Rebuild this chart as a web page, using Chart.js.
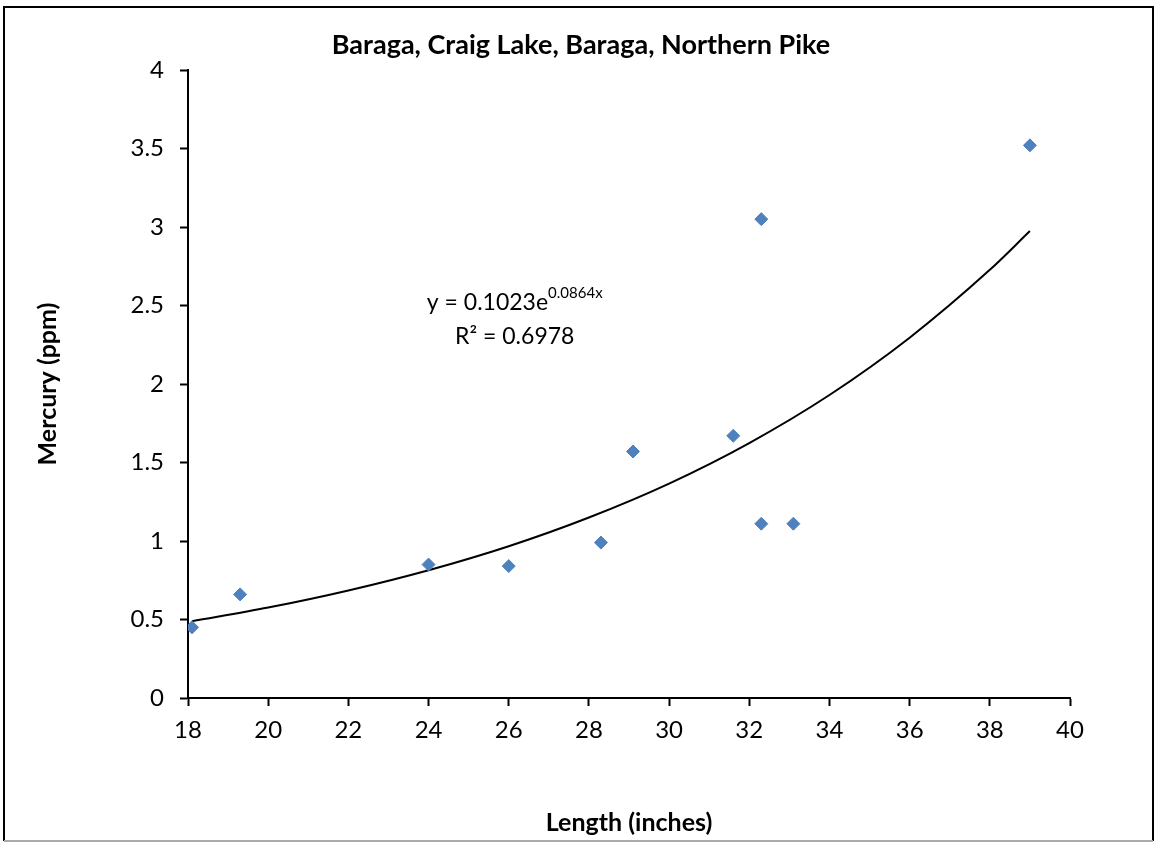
<!DOCTYPE html>
<html>
<head>
<meta charset="utf-8">
<script src="https://cdn.jsdelivr.net/npm/chart.js@4.4.1/dist/chart.umd.min.js"></script>
<style>
  html, body { margin: 0; padding: 0; background: #fff; }
  #wrap { position: relative; width: 1156px; height: 842px; }
</style>
</head>
<body>
<div id="wrap"><canvas id="chart" width="1156" height="842"></canvas></div>
<script>
// Data -----------------------------------------------------------------------------------

var lengths = [18.1, 19.3, 24.0, 26.0, 28.3, 29.1, 31.6, 32.3, 32.3, 33.1, 39.0];
var mercury = [0.45, 0.66, 0.85, 0.84, 0.99, 1.57, 1.67, 3.05, 1.11, 1.11, 3.52];

// exponential trendline y = 0.1023e^(0.0864x), values read at these lengths
var trendX = [18.1, 20, 22, 24, 26, 28, 30, 32, 34, 36, 38, 39];
var trendY = [0.489, 0.576, 0.685, 0.814, 0.967, 1.150, 1.366, 1.624, 1.930, 2.295, 2.727, 2.974];

var xTicks = [18, 20, 22, 24, 26, 28, 30, 32, 34, 36, 38, 40];
var yTicks = [0, 0.5, 1, 1.5, 2, 2.5, 3, 3.5, 4];

var TITLE = 'Baraga, Craig Lake, Baraga, Northern Pike';
var X_TITLE = 'Length (inches)';
var Y_TITLE = 'Mercury (ppm)';
var EQ_MAIN = 'y = 0.1023e';
var EQ_SUP = '0.0864x';
var EQ_R2 = 'R² = 0.6978';

// Constants ------------------------------------------------------------------------------

var FONT = 'Lato, "Open Sans", sans-serif';
var MARKER_COLOR = '#4F81BD';
var TICK_SIZE = 24;
var AXIS_TITLE_SIZE = 25;
var TITLE_SIZE = 27;
var EQ_SIZE = 23;

// Plugins --------------------------------------------------------------------------------

var frame = {
    id: 'frame',
    afterDraw: function (chart) {
        var ctx = chart.ctx;
        ctx.save();
        ctx.strokeStyle = '#000';
        ctx.lineWidth = 2;
        ctx.beginPath();
        ctx.moveTo(4, 841);
        ctx.lineTo(4, 7);
        ctx.lineTo(1153, 7);
        ctx.lineTo(1153, 841);
        ctx.stroke();
        ctx.strokeStyle = '#aaa';
        ctx.beginPath();
        ctx.moveTo(4, 841);
        ctx.lineTo(1153, 841);
        ctx.stroke();
        ctx.restore();
    }
};

// title centred on the whole canvas, like the spreadsheet chart
var centredTitle = {
    id: 'centredTitle',
    afterDraw: function (chart) {
        var ctx = chart.ctx;
        ctx.save();
        ctx.fillStyle = '#000';
        ctx.font = 'bold ' + TITLE_SIZE + 'px ' + FONT;
        ctx.textAlign = 'center';
        ctx.textBaseline = 'middle';
        ctx.fillText(TITLE, chart.width / 2 + 3, 45);
        ctx.restore();
    }
};

var equation = {
    id: 'equation',
    afterDatasetsDraw: function (chart) {
        var ctx = chart.ctx;
        var cx = chart.scales.x.getPixelForValue(26.15);
        var y1 = chart.scales.y.getPixelForValue(2.52);
        var y2 = chart.scales.y.getPixelForValue(2.3);
        var supSize = Math.round(EQ_SIZE * 0.65);
        ctx.save();
        ctx.fillStyle = '#000';
        ctx.textBaseline = 'middle';
        ctx.font = EQ_SIZE + 'px ' + FONT;
        var wMain = ctx.measureText(EQ_MAIN).width;
        ctx.font = supSize + 'px ' + FONT;
        var wSup = ctx.measureText(EQ_SUP).width;
        var left = cx - (wMain + wSup) / 2;
        ctx.textAlign = 'left';
        ctx.font = EQ_SIZE + 'px ' + FONT;
        ctx.fillText(EQ_MAIN, left, y1);
        ctx.font = supSize + 'px ' + FONT;
        ctx.fillText(EQ_SUP, left + wMain, y1 - 9);
        ctx.font = EQ_SIZE + 'px ' + FONT;
        ctx.textAlign = 'center';
        ctx.fillText(EQ_R2, cx, y2);
        ctx.restore();
    }
};

// Chart ----------------------------------------------------------------------------------

var points = lengths.map(function (x, i) { return { x: x, y: mercury[i] }; });
var trend = trendX.map(function (x, i) { return { x: x, y: trendY[i] }; });

new Chart(document.getElementById('chart').getContext('2d'), {
    type: 'scatter',
    data: {
        datasets: [{
            label: 'Mercury',
            data: points,
            pointStyle: 'rectRot',
            pointRadius: 6.5,
            pointBackgroundColor: MARKER_COLOR,
            pointBorderColor: MARKER_COLOR,
            pointBorderWidth: 1,
            showLine: false,
            order: 1
        }, {
            label: 'Trend',
            data: trend,
            showLine: true,
            borderColor: '#000',
            borderWidth: 2,
            pointRadius: 0,
            cubicInterpolationMode: 'monotone',
            order: 2
        }]
    },
    options: {
        responsive: false,
        animation: false,
        layout: { padding: { left: 33, right: 86, top: 70, bottom: 4 } },
        plugins: {
            legend: { display: false },
            tooltip: { enabled: false },
            title: { display: false }
        },
        scales: {
            x: {
                type: 'linear',
                min: 18,
                max: 40,
                afterBuildTicks: function (axis) {
                    axis.ticks = xTicks.map(function (v) { return { value: v }; });
                },
                afterFit: function (axis) { axis.height = 140; },
                border: { color: '#000', width: 2 },
                grid: { drawOnChartArea: false, drawTicks: true, tickLength: 8, tickColor: '#000', tickWidth: 2 },
                ticks: {
                    color: '#000',
                    font: { family: FONT, size: TICK_SIZE },
                    padding: 10,
                    maxRotation: 0,
                    callback: function (v) { return String(v); }
                },
                title: {
                    display: true,
                    text: X_TITLE,
                    color: '#000',
                    font: { family: FONT, size: AXIS_TITLE_SIZE, weight: 'bold' },
                    padding: 0
                }
            },
            y: {
                type: 'linear',
                min: 0,
                max: 4,
                afterBuildTicks: function (axis) {
                    axis.ticks = yTicks.map(function (v) { return { value: v }; });
                },
                afterFit: function (axis) { axis.width = 155; },
                border: { color: '#000', width: 2 },
                grid: { drawOnChartArea: false, drawTicks: true, tickLength: 8, tickColor: '#000', tickWidth: 2 },
                ticks: {
                    color: '#000',
                    font: { family: FONT, size: TICK_SIZE },
                    padding: 16,
                    callback: function (v) { return String(v); }
                },
                title: {
                    display: true,
                    text: Y_TITLE,
                    color: '#000',
                    font: { family: FONT, size: AXIS_TITLE_SIZE, weight: 'bold' },
                    padding: 0
                }
            }
        }
    },
    plugins: [frame, centredTitle, equation]
});
</script>
</body>
</html>
